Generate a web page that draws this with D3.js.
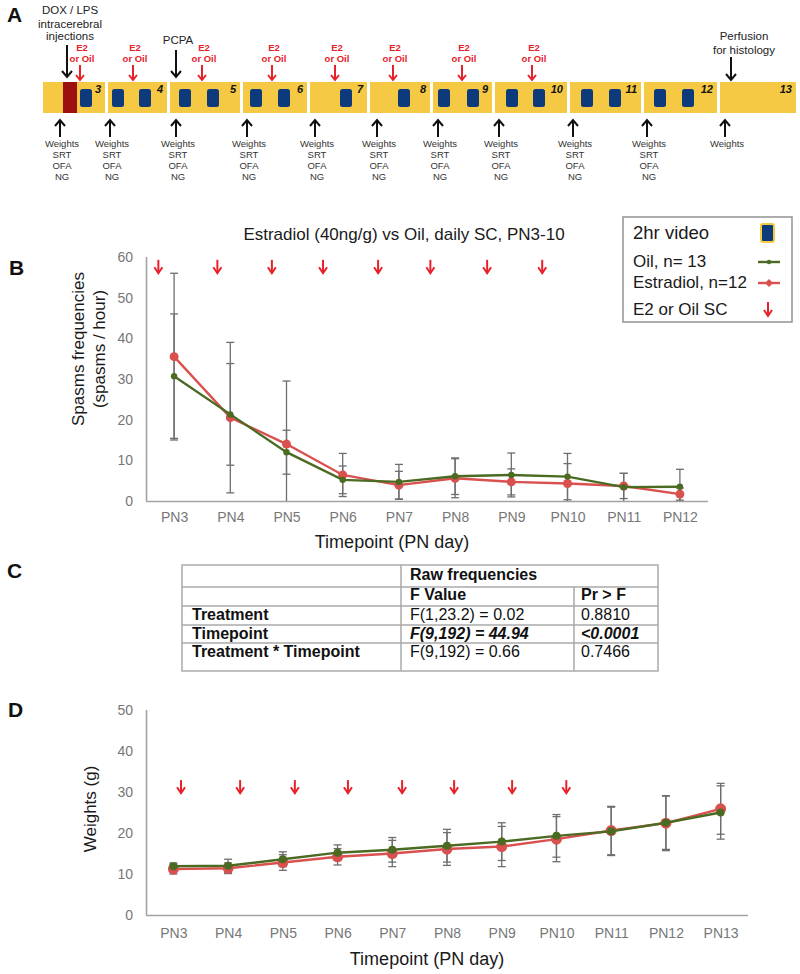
<!DOCTYPE html>
<html><head><meta charset="utf-8">
<script src="https://cdn.jsdelivr.net/npm/d3@7"></script>
<style>
html,body{margin:0;padding:0;background:#fff;}
svg{display:block;font-family:"Liberation Sans",Arial,sans-serif;}
</style></head>
<body><svg id="fig" width="800" height="974"></svg>
<script>
// ---------- DATA ----------
// Panel A timeline (schematic units)
const tlDays = [3,4,5,6,7,8,9,10,11,12,13];
const tlStart = [43,108,170,243,310,370,433,495,570,644,720];
const tlEnd   = [105,167,240,307,367,430,492,567,641,717,796];
const videoBlocks = [86,118,145,185,213,256,284,346,404,444,473,512,539,587,615,660,688];
const injectionBlock = [70];
const e2Marks = [80,133,202,272,335,393,462,532];
const testMarks = [60,110,176,247,315,377,438,499,573,647,725];
const testLabels = [["Weights","SRT","OFA","NG"],["Weights","SRT","OFA","NG"],["Weights","SRT","OFA","NG"],
  ["Weights","SRT","OFA","NG"],["Weights","SRT","OFA","NG"],["Weights","SRT","OFA","NG"],["Weights","SRT","OFA","NG"],
  ["Weights","SRT","OFA","NG"],["Weights","SRT","OFA","NG"],["Weights","SRT","OFA","NG"],["Weights"]];
const eventMarks = [67,176,731];
const eventLabels = [["DOX / LPS","intracerebral","injections"],["PCPA"],["Perfusion","for histology"]];

// Panel B: spasms
const daysB = ["PN3","PN4","PN5","PN6","PN7","PN8","PN9","PN10","PN11","PN12"];
const spasmOil    = [30.7,21.3,12.0,5.2,4.7,6.1,6.4,6.0,3.4,3.5];
const spasmOilErr = [15.3,12.5,5.4,3.4,4.3,4.5,5.4,5.7,3.4,4.3];
const spasmE2     = [35.5,20.5,14.0,6.4,3.9,5.6,4.7,4.3,3.7,1.7];
const spasmE2Err  = [20.5,18.5,15.5,5.3,3.4,4.8,3.2,4.9,3.1,1.5];
const spasmTicks  = [0,10,20,30,40,50,60];
const injDaysB    = [2.72,3.77,4.74,5.65,6.63,7.56,8.57,9.55];

// Panel C: table
const tableHead = ["", "Raw frequencies", ""];
const tableSub  = ["", "F Value", "Pr > F"];
const tableRows = [["Treatment","F(1,23.2) = 0.02","0.8810"],
                   ["Timepoint","F(9,192) = 44.94","<0.0001"],
                   ["Treatment * Timepoint","F(9,192) = 0.66","0.7466"]];
const tableSig  = [false,true,false];

// Panel D: weights
const daysD = ["PN3","PN4","PN5","PN6","PN7","PN8","PN9","PN10","PN11","PN12","PN13"];
const weightOil    = [11.9,12.0,13.6,15.2,15.9,16.9,17.9,19.3,20.4,22.5,25.0];
const weightOilErr = [0.8,1.6,1.8,1.9,3.0,4.0,4.6,5.2,5.9,6.5,6.5];
const weightE2     = [11.2,11.4,12.8,14.2,15.0,16.1,16.7,18.5,20.6,22.4,25.9];
const weightE2Err  = [1.2,1.3,1.9,2.0,3.2,4.0,4.9,5.5,5.9,6.7,6.2];
const weightTicks  = [0,10,20,30,40,50];
const injDaysD     = [3.14,4.22,5.22,6.19,7.18,8.13,9.19,10.18];

// ---------- STYLE ----------
const GREEN = "#4b6a22", RED = "#d9504f", ERR = "#6e6e6e", AXIS = "#a3a3a3", TICK = "#777";
const YEL = "#f6c945", BLUE = "#0c3a7a", DRED = "#9c1010", ARED = "#e8202a";
const svg = d3.select("#fig");

function arrow(g, x, yFrom, yTo, color, sw, hw, hh) {
  const s = yTo > yFrom ? 1 : -1;
  g.append("line").attr("x1", x).attr("x2", x).attr("y1", yFrom).attr("y2", yTo - s)
    .attr("stroke", color).attr("stroke-width", sw);
  g.append("path").attr("d", `M${x-hw},${yTo - s*hh}L${x},${yTo}L${x+hw},${yTo - s*hh}`)
    .attr("fill", "none").attr("stroke", color).attr("stroke-width", sw).attr("stroke-linejoin","miter");
}
function panelLabel(t, x, y) {
  svg.append("text").attr("x", x).attr("y", y).attr("font-size", 21).attr("font-weight", "bold")
    .attr("fill", "#111").text(t);
}

// ---------- PANEL A ----------
const tl = d3.scaleLinear().domain([0, 800]).range([0, 800]);
const gA = svg.append("g");
panelLabel("A", 7, 22);
gA.selectAll("rect.seg").data(tlDays).join("rect").attr("class","seg")
  .attr("x", (d,i) => tl(tlStart[i])).attr("width", (d,i) => tl(tlEnd[i]) - tl(tlStart[i]))
  .attr("y", 82).attr("height", 31).attr("fill", YEL);
gA.selectAll("rect.inj").data(injectionBlock).join("rect").attr("class","inj")
  .attr("x", d => tl(d) - 7).attr("width", 14).attr("y", 82).attr("height", 31).attr("fill", DRED);
gA.selectAll("rect.vid").data(videoBlocks).join("rect").attr("class","vid")
  .attr("x", d => tl(d) - 6).attr("width", 12).attr("y", 89).attr("height", 18).attr("rx", 2.5)
  .attr("fill", BLUE);
gA.selectAll("text.day").data(tlDays).join("text").attr("class","day")
  .attr("x", (d,i) => tl(tlEnd[i]) - 4).attr("y", 93).attr("text-anchor","end")
  .attr("font-size", 11).attr("font-weight","bold").attr("font-style","italic").attr("fill","#111")
  .text(d => d);
// E2 / oil marks
e2Marks.forEach(m => {
  arrow(gA, tl(m), 65, 80, ARED, 2, 4, 5);
  gA.append("text").attr("x", tl(m) + 2).attr("y", 51).attr("text-anchor","middle")
    .attr("font-size", 9.5).attr("font-weight","bold").attr("fill", ARED).text("E2");
  gA.append("text").attr("x", tl(m) + 2).attr("y", 62).attr("text-anchor","middle")
    .attr("font-size", 9.5).attr("font-weight","bold").attr("fill", ARED).text("or Oil");
});
// event marks
const evY = [[45,77],[50,77],[57,80]];
const evTextY = [[14,28,40],[44],[40,54]];
const evTextDx = [3,2,13];
eventMarks.forEach((m,i) => {
  arrow(gA, tl(m), evY[i][0], evY[i][1], "#111", 2, 5, 6);
  eventLabels[i].forEach((t,j) => {
    gA.append("text").attr("x", tl(m) + evTextDx[i]).attr("y", evTextY[i][j]).attr("text-anchor","middle")
      .attr("font-size", 11.5).attr("fill", "#222").text(t);
  });
});
// tests
testMarks.forEach((m,i) => {
  arrow(gA, tl(m), 137, 120, "#111", 2, 5, 6);
  testLabels[i].forEach((t,j) => {
    gA.append("text").attr("x", tl(m) + 2).attr("y", 146.5 + j*11).attr("text-anchor","middle")
      .attr("font-size", 9.5).attr("fill", "#333").text(t);
  });
});

// ---------- line chart helper ----------
function lineChart(cfg) {
  const g = svg.append("g");
  const x = d3.scalePoint().domain(cfg.days).range([cfg.x0, cfg.x1]).padding(0.5);
  const y = d3.scaleLinear().domain([0, d3.max(cfg.ticks)]).range([cfg.y0, cfg.y1]);
  const xd = d3.scaleLinear().domain([3, 2 + cfg.days.length]).range([x(cfg.days[0]), x(cfg.days[cfg.days.length-1])]);
  // axes
  const ya = g.append("g").attr("transform", `translate(${cfg.x0},0)`)
    .call(d3.axisLeft(y).tickValues(cfg.ticks).tickSize(0).tickPadding(13));
  const xa = g.append("g").attr("transform", `translate(0,${cfg.y0})`)
    .call(d3.axisBottom(x).tickSize(0).tickPadding(cfg.xpad));
  [ya, xa].forEach(a => {
    a.select(".domain").attr("stroke", AXIS).attr("stroke-width", 1.6);
    a.selectAll("text").attr("font-size", 14).attr("fill", TICK).attr("font-family", "Liberation Sans, Arial, sans-serif");
  });
  xa.select(".domain").attr("d", `M${cfg.x0},0.5H${cfg.x1}`);
  ya.select(".domain").attr("d", `M0.5,${cfg.y0}V${cfg.y1}`);
  // injection arrows
  cfg.inj.forEach(d => arrow(g, xd(d), y(cfg.arrowTop), y(cfg.arrowBot), ARED, 2, 4, 6));
  // error bars
  const series = [
    {v: cfg.e2, e: cfg.e2Err, c: RED, r: cfg.rRed},
    {v: cfg.oil, e: cfg.oilErr, c: GREEN, r: cfg.rGreen}
  ];
  series.forEach(s => {
    s.v.forEach((v,i) => {
      const cx = x(cfg.days[i]);
      const hi = y(v + s.e[i]), loV = v - s.e[i], lo = y(Math.max(0, loV));
      g.append("line").attr("x1", cx).attr("x2", cx).attr("y1", hi).attr("y2", lo)
        .attr("stroke", ERR).attr("stroke-width", 1.3);
      g.append("line").attr("x1", cx-4).attr("x2", cx+4).attr("y1", hi).attr("y2", hi)
        .attr("stroke", ERR).attr("stroke-width", 1.3);
      if (loV > 0) g.append("line").attr("x1", cx-4).attr("x2", cx+4).attr("y1", lo).attr("y2", lo)
        .attr("stroke", ERR).attr("stroke-width", 1.3);
    });
  });
  series.forEach(s => {
    g.append("path").datum(s.v).attr("fill","none").attr("stroke", s.c).attr("stroke-width", 2.4)
      .attr("d", d3.line().x((d,i) => x(cfg.days[i])).y(d => y(d)));
    g.selectAll(null).data(s.v).join("circle").attr("cx", (d,i) => x(cfg.days[i])).attr("cy", d => y(d))
      .attr("r", s.r).attr("fill", s.c);
  });
  // titles
  g.append("text").attr("x", cfg.xtX).attr("y", cfg.xtY).attr("text-anchor","middle")
    .attr("font-size", 18).attr("fill", "#1a1a1a").text("Timepoint (PN day)");
  cfg.ytitle.forEach((t,i) => {
    g.append("text").attr("transform", `translate(${cfg.ytX + i*21},${cfg.ytY}) rotate(-90)`)
      .attr("text-anchor","middle").attr("dy","0.35em").attr("font-size", 17).attr("fill","#1a1a1a").text(t);
  });
  return g;
}

// ---------- PANEL B ----------
panelLabel("B", 9, 275);
svg.append("text").attr("x", 404).attr("y", 240).attr("text-anchor","middle").attr("font-size", 17)
  .attr("fill","#1a1a1a").text("Estradiol (40ng/g) vs Oil, daily SC, PN3-10");
lineChart({days: daysB, x0: 146, x1: 708, y0: 501, y1: 257, ticks: spasmTicks, xpad: 11,
  oil: spasmOil, oilErr: spasmOilErr, e2: spasmE2, e2Err: spasmE2Err, rRed: 4.5, rGreen: 3.2,
  inj: injDaysB, arrowTop: 59.3, arrowBot: 56,
  xtX: 392, xtY: 548, ytitle: ["Spasms frequencies","(spasms / hour)"], ytX: 78, ytY: 349});
// legend
const lg = svg.append("g");
lg.append("rect").attr("x", 623).attr("y", 217).attr("width", 169).attr("height", 105)
  .attr("fill","#fff").attr("stroke","#999").attr("stroke-width",1.6);
lg.append("text").attr("x", 633).attr("y", 239).attr("font-size", 18.5).attr("fill","#1a1a1a").text("2hr video");
lg.append("rect").attr("x", 761).attr("y", 224).attr("width", 13).attr("height", 18).attr("rx",2)
  .attr("fill", BLUE).attr("stroke", YEL).attr("stroke-width", 2);
lg.append("text").attr("x", 633).attr("y", 267).attr("font-size", 17).attr("fill","#1a1a1a").text("Oil, n= 13");
lg.append("line").attr("x1",758).attr("x2",780).attr("y1",262).attr("y2",262).attr("stroke",GREEN).attr("stroke-width",2.4);
lg.append("circle").attr("cx",769).attr("cy",262).attr("r",2.2).attr("fill",GREEN);
lg.append("text").attr("x", 633).attr("y", 288).attr("font-size", 17).attr("fill","#1a1a1a").text("Estradiol, n=12");
lg.append("line").attr("x1",758).attr("x2",780).attr("y1",283).attr("y2",283).attr("stroke",RED).attr("stroke-width",2.4);
lg.append("path").attr("d","M769,279L773,283L769,287L765,283Z").attr("fill",RED);
lg.append("text").attr("x", 633).attr("y", 315).attr("font-size", 17).attr("fill","#1a1a1a").text("E2 or Oil SC");
arrow(lg, 768, 302, 316, ARED, 2, 4, 6);

// ---------- PANEL C ----------
panelLabel("C", 7, 578);
const tb = svg.append("g");
const colX = [182, 401, 574, 658];
const rowY = [565, 587, 606, 625, 643, 671];
tb.append("rect").attr("x", colX[0]).attr("y", rowY[0]).attr("width", colX[3]-colX[0]).attr("height", rowY[5]-rowY[0])
  .attr("fill","none").attr("stroke","#aaa").attr("stroke-width",1.5);
rowY.slice(1,5).forEach(yv => tb.append("line").attr("x1",colX[0]).attr("x2",colX[3]).attr("y1",yv).attr("y2",yv)
  .attr("stroke","#aaa").attr("stroke-width",1.5));
tb.append("line").attr("x1",colX[1]).attr("x2",colX[1]).attr("y1",rowY[0]).attr("y2",rowY[5]).attr("stroke","#aaa").attr("stroke-width",1.5);
tb.append("line").attr("x1",colX[2]).attr("x2",colX[2]).attr("y1",rowY[1]).attr("y2",rowY[5]).attr("stroke","#aaa").attr("stroke-width",1.5);
const cellX = [192, 410, 581];
tableHead.forEach((t,i) => tb.append("text").attr("x", cellX[i]).attr("y", 580).attr("font-size",16)
  .attr("font-weight","bold").attr("fill","#111").text(t));
tableSub.forEach((t,i) => tb.append("text").attr("x", cellX[i]).attr("y", 600).attr("font-size",16)
  .attr("font-weight","bold").attr("fill","#111").text(t));
tableRows.forEach((r,ri) => r.forEach((t,ci) => {
  const tx = tb.append("text").attr("x", cellX[ci]).attr("y", 620 + ri*18.5).attr("font-size",16).attr("fill","#111").text(t);
  if (ci === 0 || tableSig[ri]) tx.attr("font-weight","bold");
  if (ci > 0 && tableSig[ri]) tx.attr("font-style","italic");
}));

// ---------- PANEL D ----------
panelLabel("D", 8, 717);
lineChart({days: daysD, x0: 146, x1: 748, y0: 915, y1: 710, ticks: weightTicks, xpad: 13,
  oil: weightOil, oilErr: weightOilErr, e2: weightE2, e2Err: weightE2Err, rRed: 5.5, rGreen: 4,
  inj: injDaysD, arrowTop: 32.9, arrowBot: 29.7,
  xtX: 427, xtY: 965, ytitle: ["Weights (g)"], ytX: 90, ytY: 809});
</script></body></html>
